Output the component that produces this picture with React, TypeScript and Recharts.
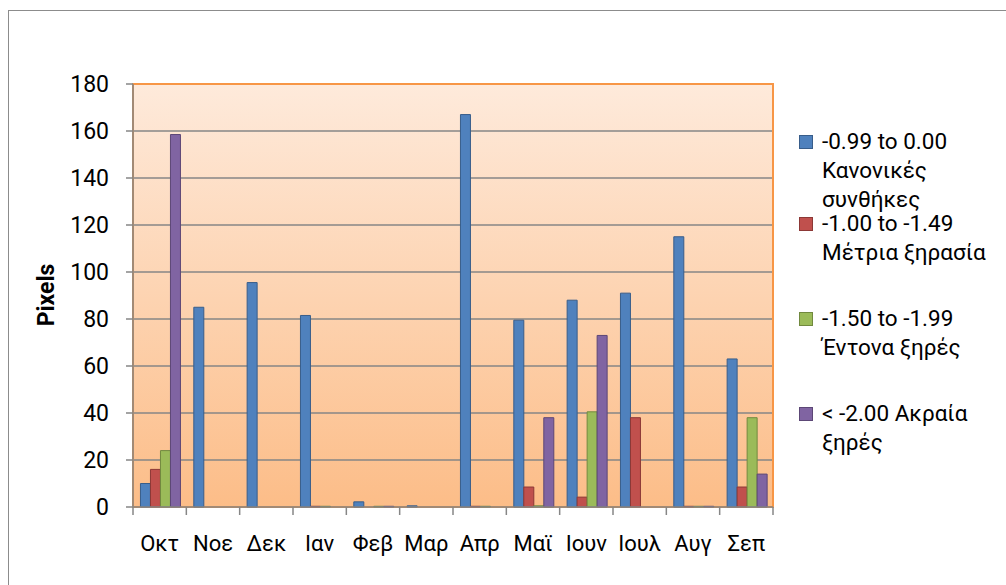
import { BarChart, Bar, XAxis, YAxis, CartesianGrid, ReferenceArea } from 'recharts';

// months (Greek abbreviations)
const months = ['Οκτ', 'Νοε', 'Δεκ', 'Ιαν', 'Φεβ', 'Μαρ', 'Απρ', 'Μαϊ', 'Ιουν', 'Ιουλ', 'Αυγ', 'Σεπ'];

// pixel counts per drought class
const normal = [10, 85, 95.5, 81.5, 2.2, 0.5, 167, 79.5, 88, 91, 115, 63];
const moderate = [16, 0, 0, 0.3, 0, 0, 0.3, 8.5, 4.2, 38, 0.3, 8.5];
const severe = [24, 0, 0, 0.3, 0.3, 0, 0.3, 0.5, 40.5, 0, 0.3, 38];
const extreme = [158.5, 0, 0, 0, 0.3, 0, 0, 38, 73, 0, 0.3, 14];

const yTicks = [0, 20, 40, 60, 80, 100, 120, 140, 160, 180];

const series = [
  { key: 'normal', fill: '#4F81BD', stroke: '#385D8A', lines: ['-0.99 to 0.00', 'Κανονικές', 'συνθήκες'], top: 127 },
  { key: 'moderate', fill: '#C0504D', stroke: '#8C3836', lines: ['-1.00 to -1.49', 'Μέτρια ξηρασία'], top: 209 },
  { key: 'severe', fill: '#9BBB59', stroke: '#71893F', lines: ['-1.50 to -1.99', 'Έντονα ξηρές'], top: 304 },
  { key: 'extreme', fill: '#8064A2', stroke: '#5C4776', lines: ['< -2.00 Ακραία', 'ξηρές'], top: 399 },
];

const data = months.map((m, i) => ({
  month: m,
  normal: normal[i],
  moderate: moderate[i],
  severe: severe[i],
  extreme: extreme[i],
}));

const FONT = 'Roboto, "Noto Sans", sans-serif';
const GRAY = '#868686';

const XTick = ({ x, y, payload, index }: any) => {
  const half = payload && payload.offset ? payload.offset : 26.7;
  return (
    <g>
      <line x1={x - half} x2={x - half} y1={y} y2={y + 8} stroke={GRAY} strokeWidth={1.5} />
      {index === months.length - 1 && (
        <line x1={x + half} x2={x + half} y1={y} y2={y + 8} stroke={GRAY} strokeWidth={1.5} />
      )}
      <text x={x} y={y + 44} textAnchor="middle" fontSize={22} fill="#000" fontFamily={FONT}>
        {payload.value}
      </text>
    </g>
  );
};

export default function App() {
  return (
    <div style={{ position: 'absolute', left: 0, top: 0, width: 1006, height: 585, background: '#fff', fontFamily: FONT }}>
      <div style={{ position: 'absolute', left: 8, top: 10, right: 0, bottom: 0, borderLeft: '1.5px solid #8c8c8c', borderTop: '1.5px solid #8c8c8c' }} />
      <div style={{ position: 'absolute', left: 0, top: 0 }}>
        <BarChart
          width={1006}
          height={585}
          data={data}
          margin={{ top: 84, right: 233, bottom: 28, left: 73 }}
          barCategoryGap="14%"
          barGap={0}
        >
          <defs>
            <linearGradient id="plotBg" x1="0" y1="0" x2="0" y2="1">
              <stop offset="0%" stopColor="#FEEADB" />
              <stop offset="100%" stopColor="#FCBD88" />
            </linearGradient>
          </defs>
          <CartesianGrid vertical={false} fill="url(#plotBg)" fillOpacity={1} stroke={GRAY} strokeWidth={1.5} />
          <ReferenceArea y1={0} y2={180} fill="none" stroke="#F79646" strokeWidth={2} ifOverflow="visible" />
          <XAxis
            dataKey="month"
            height={50}
            tickLine={false}
            tickSize={0}
            tickMargin={0}
            axisLine={{ stroke: GRAY, strokeWidth: 1.5 }}
            tick={<XTick />}
            interval={0}
          />
          <YAxis
            width={60}
            domain={[0, 180]}
            ticks={yTicks}
            interval={0}
            tickSize={7}
            tickMargin={17}
            axisLine={{ stroke: GRAY, strokeWidth: 1.5 }}
            tickLine={{ stroke: GRAY, strokeWidth: 1.5 }}
            tick={{ fontSize: 23, fill: '#000', fontFamily: FONT }}
          />
          {series.map((s) => (
            <Bar key={s.key} dataKey={s.key} fill={s.fill} stroke={s.stroke} strokeWidth={1} isAnimationActive={false} />
          ))}
        </BarChart>
      </div>
      <div
        style={{
          position: 'absolute',
          left: 46,
          top: 295,
          transform: 'translate(-50%, -50%) rotate(-90deg)',
          fontWeight: 'bold',
          fontSize: 23,
          whiteSpace: 'nowrap',
        }}
      >
        Pixels
      </div>
      {series.map((s) => (
        <div key={s.key} style={{ position: 'absolute', left: 799, top: s.top, fontSize: 22.5, lineHeight: '29px', color: '#000' }}>
          <div
            style={{
              position: 'absolute',
              left: 0,
              top: 8,
              width: 12,
              height: 12,
              background: s.fill,
              border: `1px solid ${s.stroke}`,
            }}
          />
          {s.lines.map((t, i) => (
            <div key={i} style={{ paddingLeft: 23, whiteSpace: 'nowrap' }}>
              {t}
            </div>
          ))}
        </div>
      ))}
    </div>
  );
}
